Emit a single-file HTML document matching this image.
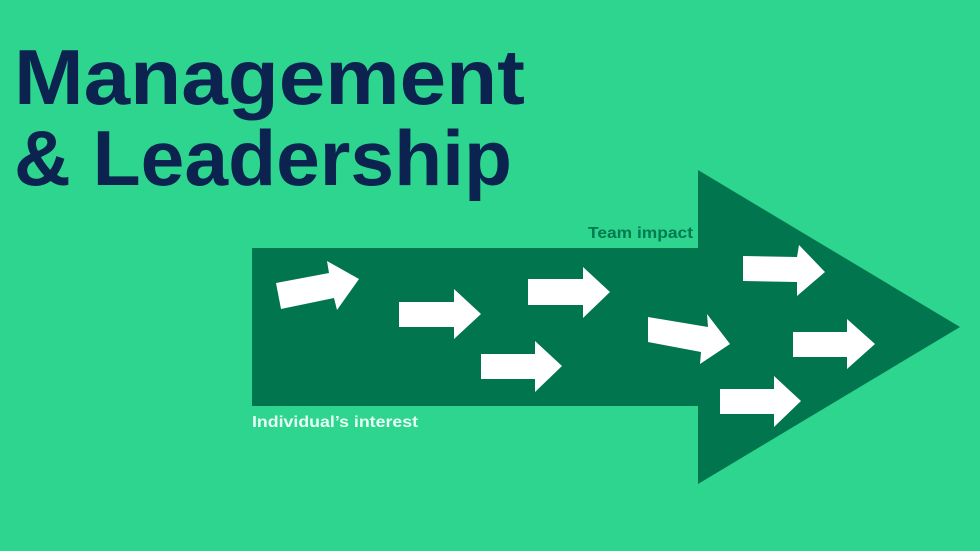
<!DOCTYPE html>
<html><head><meta charset="utf-8"><style>
html,body{margin:0;padding:0;background:#2dd58f;}
svg{display:block;}
</style></head><body>
<svg width="980" height="551" viewBox="0 0 980 551" xmlns="http://www.w3.org/2000/svg">
<rect width="980" height="551" fill="#2dd58f"/>
<text x="14" y="104" font-family="Liberation Sans, sans-serif" font-weight="bold" font-size="78" fill="#0c2350" textLength="511" lengthAdjust="spacingAndGlyphs">Management</text>
<text x="14" y="185" font-family="Liberation Sans, sans-serif" font-weight="bold" font-size="78" fill="#0c2350" textLength="498" lengthAdjust="spacingAndGlyphs">&amp; Leadership</text>
<polygon points="252,248 698,248 698,170 960,327 698,484 698,406 252,406" fill="#00754e"/>
<text x="588" y="238" font-family="Liberation Sans, sans-serif" font-weight="bold" font-size="16" fill="#007a4f" textLength="105" lengthAdjust="spacingAndGlyphs">Team impact</text>
<text x="252" y="427" font-family="Liberation Sans, sans-serif" font-weight="bold" font-size="16" fill="#e8fff3" textLength="166" lengthAdjust="spacingAndGlyphs">Individual’s interest</text>
<g fill="#ffffff">
<polygon points="276,283 329,273 327,261 359,279 337,310 334,298 281,309"/>
<polygon points="399,302 454,302 454,289 481,314 454,339 454,327 399,327"/>
<polygon points="528,279 583,279 583,267 610,292 583,318 583,305 528,305"/>
<polygon points="481,354 535,354 535,341 562,366 535,392 535,379 481,379"/>
<polygon points="648,317 708,327 707,314 730,344 700,364 701,352 648,342"/>
<polygon points="743,256 797,257 799,245 825,272 797,296 797,282 743,281"/>
<polygon points="793,332 847,332 847,319 875,344 847,369 847,357 793,357"/>
<polygon points="720,389 774,389 774,376 801,401 774,427 774,414 720,414"/>
</g>
</svg>
</body></html>
